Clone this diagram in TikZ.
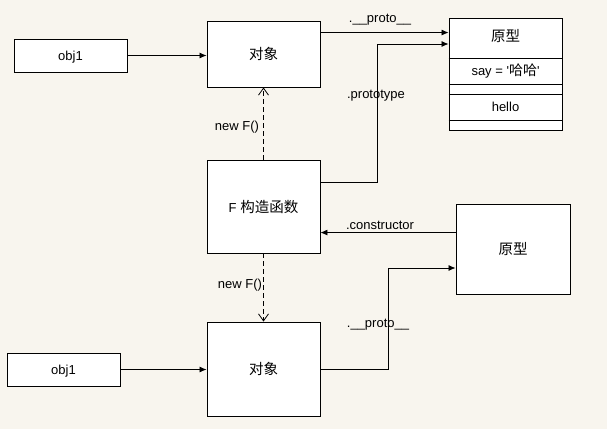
\documentclass[tikz,border=0pt]{standalone}
\usepackage{fontspec}
\setmainfont{Liberation Sans}
\newfontfamily\cjk{Noto Sans CJK SC}
\usetikzlibrary{arrows.meta}
\definecolor{bgc}{RGB}{248,245,238}
\begin{document}
\begin{tikzpicture}[x=1pt,y=-1pt,
  box/.style={draw,line width=0.9pt,fill=white,inner sep=0pt,minimum width=113pt,font=\fontsize{13}{15}\selectfont},
  cj/.style={font=\fontsize{14.5}{16}\cjk},
  row/.style={line width=0.9pt},
  lbl/.style={inner sep=0pt,font=\fontsize{13}{15}\selectfont},
  arr/.style={line width=0.8pt,-{Latex[length=7pt,width=6pt]}},
  darr/.style={line width=0.8pt,dash pattern=on 5pt off 3pt,-{Straight Barb[length=7pt,width=10pt]}}]
\fill[bgc] (0,0) rectangle (607,429);
\useasboundingbox (0,0) rectangle (607,429);
% boxes
\node[box,minimum height=33pt] (obj1a) at (70.5,55.5) {\raisebox{-2pt}[\height][\depth]{obj1}};
\node[box,minimum height=66pt,cj] (objA) at (263.5,54) {对象};
\node[box,minimum height=112pt] (pBox) at (505.5,74) {};
\node[inner sep=0pt,cj] (pTitle) at (505.5,36) {原型};
\node[lbl] (pSay) at (505.5,71) {say = \textquotesingle{\fontsize{14}{16}\cjk 哈哈}\textquotesingle};
\node[lbl] (pHello) at (505.5,107) {hello};
\draw[row] (pBox.west |- 0,58) -- (pBox.east |- 0,58);
\draw[row] (pBox.west |- 0,84) -- (pBox.east |- 0,84);
\draw[row] (pBox.west |- 0,94) -- (pBox.east |- 0,94);
\draw[row] (pBox.west |- 0,120) -- (pBox.east |- 0,120);
\node[box,minimum height=93pt] (F) at (263.5,206.5) {F {\fontsize{14.5}{16}\cjk 构造函数}};
\node[box,minimum width=114pt,minimum height=90pt,cj] (protoB) at (513,249) {原型};
\node[box,minimum height=33pt] (obj1b) at (63.5,369.5) {\raisebox{-2pt}[\height][\depth]{obj1}};
\node[box,minimum height=94pt,cj] (objB) at (263.5,369) {对象};
% connectors
\draw[arr] (obj1a.east) -- (obj1a.east -| objA.west);
\draw[arr] ([yshift=-12pt]objA.north east) -- ([yshift=-12pt]objA.north east -| pBox.west);
\coordinate (k1) at (377,44);
\draw[arr] ([yshift=-23pt]F.north east) -| (k1) -- (k1 -| pBox.west);
\draw[arr] ([yshift=-29pt]protoB.north west) -- ([yshift=-29pt]protoB.north west -| F.east);
\draw[darr] (F.north) -- (objA.south);
\draw[darr] (F.south) -- (objB.north);
\draw[arr] (obj1b.east) -- (obj1b.east -| objB.west);
\coordinate (k2) at (388,268);
\draw[arr] (objB.east) -| (k2) -- (k2 -| protoB.west);
% labels
\node[lbl] (l1) at (380,20) {.\_\_proto\_\_};
\node[lbl] (l2) at (376,96) {.prototype};
\node[lbl] (l3) at (380,225) {.constructor};
\node[lbl] (l4) at (237,127) {new F()};
\node[lbl] (l5) at (240,285) {new F()};
\node[lbl] (l6) at (378,325) {.\_\_proto\_\_};
\end{tikzpicture}
\end{document}
